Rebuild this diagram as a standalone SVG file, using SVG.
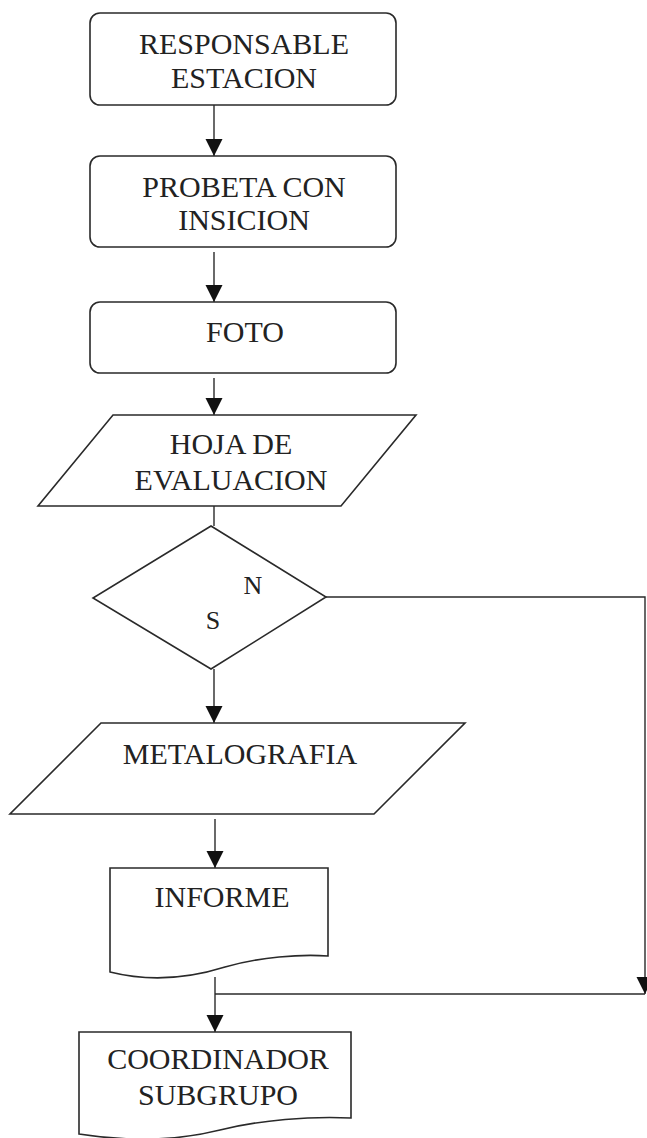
<svg xmlns="http://www.w3.org/2000/svg" width="647" height="1138" viewBox="0 0 647 1138">
<style>
  .shape { fill: #ffffff; stroke: #2a2a2a; stroke-width: 1.6; }
  .conn { fill: none; stroke: #2a2a2a; stroke-width: 1.4; }
  .lbl { font-family: "Liberation Serif", "Times New Roman", serif; font-size: 30px; fill: #222222; text-anchor: middle; }
  .sm { font-size: 26px; }
</style>
<defs>
  <marker id="ah" viewBox="0 0 10 10" markerWidth="17" markerHeight="18" refX="10" refY="5" orient="auto" markerUnits="userSpaceOnUse">
    <path d="M0,0 L10,5 L0,10 z" fill="#111111"/>
  </marker>
</defs>
<rect width="647" height="1138" fill="#ffffff"/>
<g id="connectors">
  <line class="conn" x1="214" y1="105" x2="214" y2="156" marker-end="url(#ah)"/>
  <line class="conn" x1="214" y1="252" x2="214" y2="302" marker-end="url(#ah)"/>
  <line class="conn" x1="214" y1="378" x2="214" y2="415" marker-end="url(#ah)"/>
  <line class="conn" x1="214" y1="506" x2="214" y2="526"/>
  <line class="conn" x1="214" y1="669" x2="214" y2="723" marker-end="url(#ah)"/>
  <line class="conn" x1="215" y1="819" x2="215" y2="868" marker-end="url(#ah)"/>
  <polyline class="conn" points="326,597 645,597 645,994" marker-end="url(#ah)"/>
  <line class="conn" x1="645" y1="994" x2="215" y2="994"/>
  <line class="conn" x1="215" y1="977" x2="215" y2="1032" marker-end="url(#ah)"/>
</g>
<g id="n1">
  <rect class="shape" x="90" y="13" width="306" height="92" rx="10"/>
  <text class="lbl" x="244" y="54">RESPONSABLE</text>
  <text class="lbl" x="244" y="88">ESTACION</text>
</g>
<g id="n2">
  <rect class="shape" x="90" y="156" width="306" height="91" rx="10"/>
  <text class="lbl" x="244" y="197">PROBETA CON</text>
  <text class="lbl" x="244" y="230">INSICION</text>
</g>
<g id="n3">
  <rect class="shape" x="90" y="302" width="306" height="71" rx="10"/>
  <text class="lbl" x="245" y="342">FOTO</text>
</g>
<g id="n4">
  <polygon class="shape" points="113,415 416,415 341,506 38,506"/>
  <text class="lbl" x="231" y="454">HOJA DE</text>
  <text class="lbl" x="231" y="490">EVALUACION</text>
</g>
<g id="n5">
  <polygon class="shape" points="211,526 326,597 211,669 93,598"/>
  <text class="lbl sm" x="253" y="594">N</text>
  <text class="lbl sm" x="213" y="629">S</text>
</g>
<g id="n6">
  <polygon class="shape" points="101,723 465,723 374,814 10,814"/>
  <text class="lbl" x="240" y="764">METALOGRAFIA</text>
</g>
<g id="n7">
  <path class="shape" d="M110,868 L328,868 L328,956 C300,954 260,957 225,967 C190,978 150,982 110,972 Z"/>
  <text class="lbl" x="222" y="907">INFORME</text>
</g>
<g id="n8">
  <path class="shape" d="M79,1032 L351,1032 L351,1118 C310,1116 260,1120 220,1130 C180,1140 130,1142 79,1134 Z"/>
  <text class="lbl" x="218" y="1069">COORDINADOR</text>
  <text class="lbl" x="218" y="1105">SUBGRUPO</text>
</g>
</svg>
